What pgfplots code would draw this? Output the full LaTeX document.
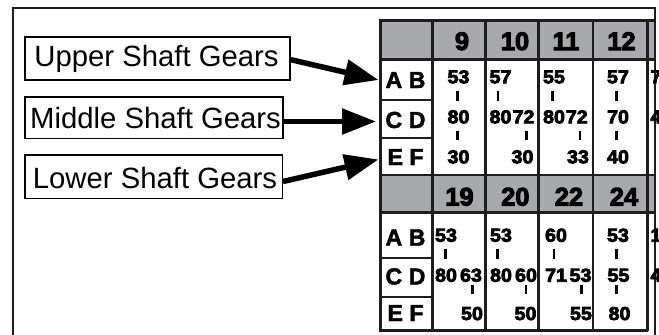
\documentclass[border=0pt]{standalone}
\usepackage{fontspec}
\setmainfont{Liberation Sans}
\newfontfamily\cellfont[FakeBold=4,FakeStretch=1.05]{Liberation Sans Bold}
\newfontfamily\headfont[FakeBold=4]{Liberation Sans Bold}
\newfontfamily\labfont[FakeBold=2]{Liberation Sans Bold}
\usepackage{pgfplots}
\pgfplotsset{compat=1.18}
\usepackage{pgfplotstable}
\usetikzlibrary{arrows.meta}
\definecolor{hdrgray}{RGB}{167,169,172}
\definecolor{ink}{RGB}{30,28,29}

% cell gear values: x = centre of number, y = baseline (pixels, from top)
\pgfplotstableread[col sep=comma]{
x,y,t
458.5,83.3,53
458.5,123.3,80
458.5,163.3,30
500.5,83.3,57
500.5,123.3,80
523.5,123.3,72
522.5,163.3,30
554,83.3,55
554,123.3,80
576.8,123.3,72
578,163.3,33
618,83.3,57
618,123.3,70
618,163.3,40
446,241.7,53
446,281.7,80
471,281.7,63
472,320,50
501,241.7,53
501,281.7,80
526,281.7,60
525.5,320,50
556,241.7,60
556,281.7,71
580.5,281.7,53
581,320,55
618,241.7,53
618.5,281.7,55
619.5,320,80
}\cellvals

% header (speed) numbers
\pgfplotstableread[col sep=comma]{
x,y,t
462,50,9
515,50,10
566,50,11
621.5,50,12
459.5,205.5,19
515.3,205.5,20
569,205.5,22
624,205.5,24
}\headvals

% row labels
\pgfplotstableread[col sep=comma]{
x,y,t
405.5,88,A B
405.5,128,C D
405.5,165,E F
405.5,245.5,A B
405.5,284.5,C D
405.5,321,E F
}\rowlabels

% shaft labels
\pgfplotstableread[col sep=comma]{
x,y,t
156.5,66,Upper Shaft Gears
155.5,128,Middle Shaft Gears
155,188,Lower Shaft Gears
}\shaftlabels

% partial next column (cut by the frame)
\pgfplotstableread[col sep=comma]{
x,y,t
650.5,83.3,7
650.5,123.3,4
650.5,241.7,1
650.5,281.7,4
}\partvals

\begin{document}
\begin{tikzpicture}
\begin{axis}[
  scale only axis, width=659bp, height=335bp,
  xmin=0, xmax=659, ymin=0, ymax=335, y dir=reverse,
  hide axis, clip=false, unbounded coords=jump,
  nodes near coords style={inner sep=0pt, outer sep=0pt, anchor=base},
]
% header fills
\addplot[fill=hdrgray, draw=none] coordinates {(380,21) (654,21) (654,59.5) (380,59.5)};
\addplot[fill=hdrgray, draw=none] coordinates {(380,175) (654,175) (654,212.5) (380,212.5)};

% partial glyphs of the next column
\addplot[black, only marks, mark=*, mark size=0pt, mark options={draw=none,fill=none},
  point meta=explicit symbolic,
  nodes near coords={\cellfont\fontsize{18.8}{18.8}\selectfont\pgfplotspointmeta},
  nodes near coords style={anchor=base west}]
  table[x=x,y=y,meta=t]{\partvals};
\addplot[fill=white, draw=none] coordinates {(655,0) (670,0) (670,335) (655,335)};

% outer frame
\addplot[ink, line width=2bp] coordinates {(13,336) (13,8.3) (654.5,8.3) (654.5,336)};

% table grid
\addplot[ink, line width=3bp, line cap=rect] coordinates {(380,21) (654,21)};
\addplot[ink, line width=3bp] coordinates {(380,21) (380,330.5) (648,330.5)};
\addplot[ink, line width=2.8bp] coordinates {(380,59.5) (654,59.5) (nan,nan) (380,175) (654,175) (nan,nan) (380,212.5) (654,212.5)};
\addplot[ink, line width=2.4bp] coordinates {
 (432.5,21) (432.5,330.5) (nan,nan)
 (485.5,21) (485.5,330.5) (nan,nan)
 (538.5,21) (538.5,330.5) (nan,nan)
 (593,21) (593,330.5) (nan,nan)
 (647.5,21) (647.5,330.5)};
\addplot[ink, line width=2.2bp] coordinates {
 (380,100) (432.5,100) (nan,nan)
 (380,138) (432.5,138) (nan,nan)
 (380,258) (432.5,258) (nan,nan)
 (380,297) (432.5,297)};

% small connector ticks between gears
\addplot[black, line width=2.8bp] coordinates {
 (457.3,91) (457.3,100.5) (nan,nan) (457.3,130.5) (457.3,140) (nan,nan)
 (498,91) (498,100.5) (nan,nan) (526.5,130.5) (526.5,140) (nan,nan)
 (552.5,91) (552.5,100.5) (nan,nan) (580,130.5) (580,140) (nan,nan)
 (616.5,91) (616.5,100.5) (nan,nan) (616.5,130.5) (616.5,140) (nan,nan)
 (445.5,249) (445.5,258.5) (nan,nan) (472.5,284.5) (472.5,294) (nan,nan)
 (497.5,249) (497.5,258.5) (nan,nan) (526,284.5) (526,294) (nan,nan)
 (554,249) (554,258.5) (nan,nan) (581.3,284.5) (581.3,294) (nan,nan)
 (616.3,249) (616.3,258.5) (nan,nan) (616.3,284.5) (616.3,294)};

% cell values
\addplot[black, only marks, mark=*, mark size=0pt, mark options={draw=none,fill=none},
  point meta=explicit symbolic,
  nodes near coords={\cellfont\fontsize{18.8}{18.8}\selectfont\pgfplotspointmeta}]
  table[x=x,y=y,meta=t]{\cellvals};
% header values
\addplot[black, only marks, mark=*, mark size=0pt, mark options={draw=none,fill=none},
  point meta=explicit symbolic,
  nodes near coords={\headfont\fontsize{25.5}{25.5}\selectfont\pgfplotspointmeta}]
  table[x=x,y=y,meta=t]{\headvals};
% row labels
\addplot[black, only marks, mark=*, mark size=0pt, mark options={draw=none,fill=none},
  point meta=explicit symbolic,
  nodes near coords={\labfont\fontsize{23.3}{23.3}\selectfont\pgfplotspointmeta}]
  table[x=x,y=y,meta=t]{\rowlabels};

% shaft label boxes
\addplot[black, line width=1.4bp, line cap=rect] coordinates {(25,37) (290,37) (290,80) (25,80) (25,37)};
\addplot[black, line width=1.4bp, line cap=rect] coordinates {(25,97) (283,97) (283,138.5) (25,138.5) (25,97)};
\addplot[black, line width=1.4bp, line cap=rect] coordinates {(25,155) (282.5,155) (282.5,198.5) (25,198.5) (25,155)};
\addplot[black, only marks, mark=*, mark size=0pt, mark options={draw=none,fill=none},
  point meta=explicit symbolic,
  nodes near coords={\fontsize{29.4}{29.4}\selectfont\pgfplotspointmeta}]
  table[x=x,y=y,meta=t]{\shaftlabels};

% arrows
\addplot[black, line width=5.5bp, -{Triangle[length=34bp,width=25bp]}] coordinates {(290,59.5) (378.5,80)};
\addplot[black, line width=5.5bp, -{Triangle[length=34bp,width=25bp]}] coordinates {(283,121.5) (376,121.5)};
\addplot[black, line width=5.5bp, -{Triangle[length=34bp,width=25bp]}] coordinates {(283,181.5) (378.5,159.5)};
\end{axis}
\pgfresetboundingbox
\path (current axis.south west) rectangle (current axis.north east);
\end{tikzpicture}
\end{document}
